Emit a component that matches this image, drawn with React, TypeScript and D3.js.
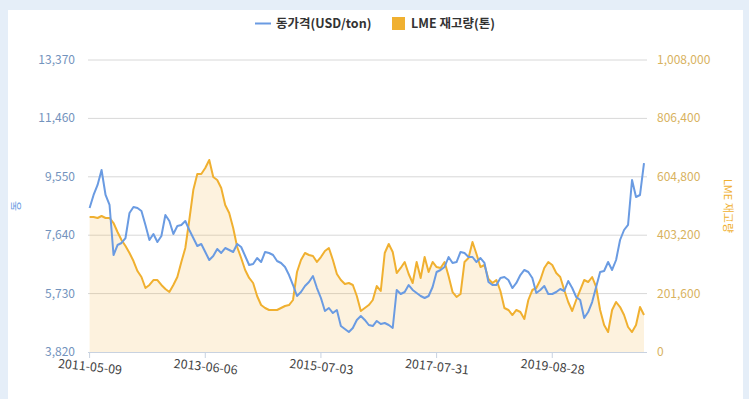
import React from "react";
import * as d3 from "d3";

const tickLabels = ["2011-05-09", "2013-06-06", "2015-07-03", "2017-07-31", "2019-08-28"];
const tickIndices = [0, 29, 58, 87, 116];
const leftTicks = [3820, 5730, 7640, 9550, 11460, 13370];
const rightTicks = [0, 201600, 403200, 604800, 806400, 1008000];

const copperPrice = [
  8530, 8955, 9282, 9772, 8955, 8628, 6992, 7319, 7385, 7548,
  8366, 8562, 8530, 8431, 7974, 7483, 7679, 7418, 7614, 8301,
  8104, 7679, 7941, 7974, 8104, 7810, 7548, 7287, 7352, 7091,
  6829, 6960, 7189, 7058, 7221, 7156, 7091, 7352, 7254, 6960,
  6665, 6698, 6894, 6763, 7091, 7058, 6992, 6796, 6731, 6600,
  6338, 6011, 5651, 5782, 5978, 6109, 6306, 5913, 5586, 5161,
  5259, 5095, 5194, 4670, 4572, 4474, 4605, 4867, 4997, 4867,
  4703, 4670, 4834, 4736, 4768, 4703, 4605, 5848, 5717, 5782,
  6011, 5848, 5750, 5651, 5586, 5651, 5946, 6436, 6502, 6600,
  6927, 6731, 6763, 7091, 7058, 6927, 6927, 6763, 6894, 6731,
  6109, 6011, 6011, 6240, 6273, 6175, 5913, 6077, 6338, 6502,
  6436, 6240, 5750, 5848, 5978, 5717, 5717, 5782, 5880, 5815,
  6142, 5913, 5619, 5521, 4932, 5128, 5455, 5946, 6436, 6469,
  6763, 6502, 6829, 7483, 7810, 7974, 9445, 8889, 8955, 10001,
];

const lmeStock = [
  466000, 466000, 462600, 469500, 462600, 462600, 445300, 414200, 386600, 365900,
  341800, 314100, 279600, 258900, 220900, 231300, 248500, 248500, 231300, 217500,
  207100, 231300, 258900, 310700, 359000, 455700, 559200, 614500, 614500, 635200,
  662800, 604100, 593800, 566100, 507500, 479800, 428100, 362500, 324500, 283100,
  255500, 238200, 193300, 162200, 151900, 145000, 145000, 145000, 151900, 158800,
  162200, 179500, 276200, 317600, 341800, 334800, 331400, 310700, 327900, 348700,
  359000, 317600, 269300, 248500, 234700, 238200, 231300, 193300, 141500, 151900,
  162200, 179500, 227800, 210600, 341800, 372800, 345200, 272700, 290000, 310700,
  269300, 238200, 310700, 255500, 327900, 276200, 310700, 293400, 290000, 310700,
  262400, 207100, 190000, 200200, 310700, 324500, 379700, 338300, 293400, 300300,
  252000, 238200, 248500, 210600, 151900, 145000, 127700, 145000, 138100, 113900,
  179500, 214000, 220900, 248500, 289900, 310700, 300300, 272700, 258900, 214000,
  172600, 141500, 179500, 214000, 248500, 241600, 258900, 224400, 145000, 93200,
  69000, 145000, 172600, 155300, 127700, 86300, 69000, 93200, 155300, 127700,
];

const FONT = "'Noto Sans CJK KR', 'Noto Sans', sans-serif";
const BLUE = "#6a9be2";
const ORANGE = "#f0b030";

export default function App() {
  const W = 749;
  const H = 399;
  const plotLeft = 89.6;
  const plotRight = 644;
  const gridRight = 647;
  const top = 60;
  const bottom = 352;

  const x = d3.scaleLinear().domain([0, copperPrice.length - 1]).range([plotLeft, plotRight]);
  const yL = d3.scaleLinear().domain([3820, 13370]).range([bottom, top]);
  const yR = d3.scaleLinear().domain([0, 1008000]).range([bottom, top]);

  const lineL = d3.line<number>().x((_, i) => x(i)).y((d) => yL(d));
  const lineR = d3.line<number>().x((_, i) => x(i)).y((d) => yR(d));
  const areaR = d3.area<number>().x((_, i) => x(i)).y0(bottom).y1((d) => yR(d));
  const fmt = d3.format(",");

  return (
    <svg
      width={W}
      height={H}
      style={{ position: "absolute", left: 0, top: 0, display: "block" }}
      fontFamily={FONT}
    >
      <rect x={0} y={0} width={W} height={H} fill="#e5eef8" />
      <rect x={8} y={10} width={735} height={H - 10} fill="#ffffff" />

      {/* legend */}
      <line x1={255} x2={271} y1={23.5} y2={23.5} stroke={BLUE} strokeWidth={2} />
      <text x={276} y={28} fontSize={12.5} fontWeight="bold" fill="#333">동가격(USD/ton)</text>
      <rect x={392} y={17} width={13} height={13} fill={ORANGE} />
      <text x={411} y={28} fontSize={12.5} fontWeight="bold" fill="#333">LME 재고량(톤)</text>

      {/* gridlines */}
      {leftTicks.slice(1).map((t) => (
        <line key={t} x1={88} x2={gridRight} y1={yL(t)} y2={yL(t)} stroke="#d8d8d8" strokeWidth={1} />
      ))}

      {/* area + lines */}
      <path d={areaR(lmeStock) || ""} fill={ORANGE} fillOpacity={0.16} />
      <path d={lineR(lmeStock) || ""} fill="none" stroke={ORANGE} strokeWidth={2} strokeLinejoin="round" />
      <path d={lineL(copperPrice) || ""} fill="none" stroke={BLUE} strokeWidth={2} strokeLinejoin="round" />

      {/* x axis */}
      <line x1={88} x2={gridRight} y1={bottom + 0.5} y2={bottom + 0.5} stroke="#c8d2e0" strokeWidth={1} />
      {tickIndices.map((ti, k) => (
        <g key={ti}>
          <line x1={x(ti)} x2={x(ti)} y1={bottom} y2={bottom + 6} stroke="#c8d2e0" strokeWidth={1} />
          <text
            transform={`translate(${x(ti)},${bottom + 19}) rotate(6)`}
            textAnchor="middle"
            fontSize={12.5}
            fill="#444"
          >
            {tickLabels[k]}
          </text>
        </g>
      ))}

      {/* left axis labels */}
      {leftTicks.map((t) => (
        <text key={t} x={75} y={yL(t) + 4} textAnchor="end" fontSize={12} fill="#7393bd">
          {fmt(t)}
        </text>
      ))}
      <text
        transform={`translate(20,${(top + bottom) / 2}) rotate(-90)`}
        textAnchor="middle"
        fontSize={11}
        fill={BLUE}
      >
        동
      </text>

      {/* right axis labels */}
      {rightTicks.map((t) => (
        <text key={t} x={657} y={yR(t) + 4} textAnchor="start" fontSize={12} fill="#d8b25e">
          {fmt(t)}
        </text>
      ))}
      <text
        transform={`translate(724,${(top + bottom) / 2}) rotate(90)`}
        textAnchor="middle"
        fontSize={11}
        fill={ORANGE}
      >
        LME 재고량
      </text>
    </svg>
  );
}
